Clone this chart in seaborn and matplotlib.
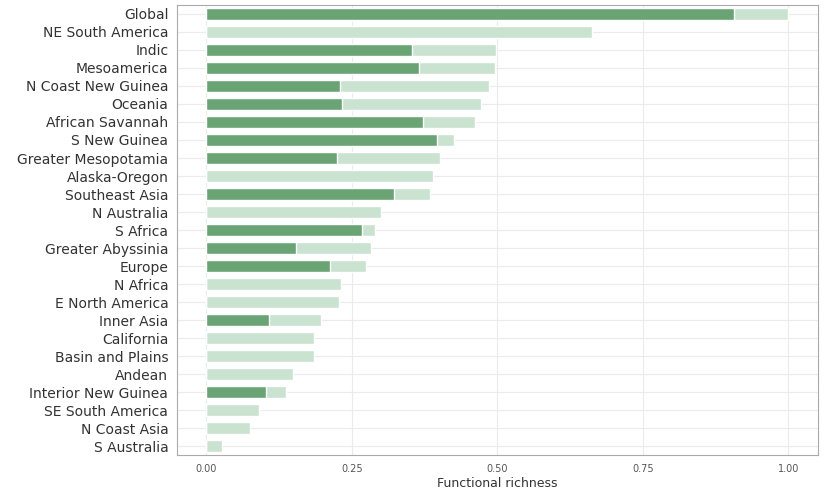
import matplotlib
matplotlib.use("Agg")
import matplotlib.pyplot as plt
import seaborn as sns
import pandas as pd

regions = ["Global", "NE South America", "Indic", "Mesoamerica", "N Coast New Guinea",
           "Oceania", "African Savannah", "S New Guinea", "Greater Mesopotamia",
           "Alaska-Oregon", "Southeast Asia", "N Australia", "S Africa",
           "Greater Abyssinia", "Europe", "N Africa", "E North America", "Inner Asia",
           "California", "Basin and Plains", "Andean", "Interior New Guinea",
           "SE South America", "N Coast Asia", "S Australia"]
total = [1.0, 0.663, 0.498, 0.495, 0.486, 0.471, 0.462, 0.426, 0.402, 0.390, 0.384,
         0.300, 0.289, 0.283, 0.274, 0.231, 0.228, 0.197, 0.185, 0.185, 0.149, 0.137,
         0.091, 0.075, 0.026]
dark = [0.906, 0, 0.353, 0.365, 0.229, 0.233, 0.372, 0.396, 0.224, 0, 0.322,
        0, 0.267, 0.154, 0.212, 0, 0, 0.108, 0, 0, 0, 0.103, 0, 0, 0]

df = pd.DataFrame({"region": regions, "total": total, "dark": dark})

sns.set_theme(style="whitegrid")
fig = plt.figure(figsize=(8.25, 4.9), dpi=100)
ax = fig.add_axes([0.215, 0.071, 0.776, 0.919])

sns.barplot(data=df, x="total", y="region", color="#c9e3d0", saturation=1,
            width=0.65, ax=ax)
sns.barplot(data=df, x="dark", y="region", color="#6aa474", saturation=1,
            width=0.65, ax=ax)

ax.set_xlim(-0.05, 1.05)
ax.set_xticks([0, 0.25, 0.5, 0.75, 1.0])
ax.set_xticklabels(["0.00", "0.25", "0.50", "0.75", "1.00"])
ax.tick_params(axis="x", labelsize=7, colors="#555555", length=3)
ax.tick_params(axis="y", labelsize=10, colors="#333333", length=3)
ax.set_xlabel("Functional richness", fontsize=9, color="#333333", labelpad=2)
ax.set_ylabel("")
ax.grid(True, color="#ebebeb", linewidth=0.8)
for s in ax.spines.values():
    s.set_visible(True)
    s.set_color("#aaaaaa")
    s.set_linewidth(0.8)

fig.savefig("out.png", dpi=100)
